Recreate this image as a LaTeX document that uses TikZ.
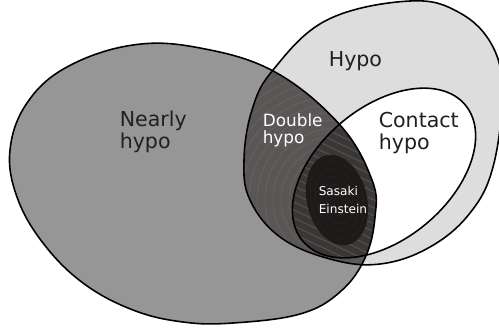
\documentclass[tikz,border=0pt]{standalone}
\usepackage{fontspec}
\setmainfont{DejaVu Sans}
\usepackage{tikz}

\definecolor{nearlygray}{HTML}{969696}
\definecolor{hypogray}{HTML}{DDDDDD}
\definecolor{doublegray}{HTML}{5A5656}
\definecolor{triplegray}{HTML}{3B3737}
\definecolor{sasakiblack}{HTML}{1E1A1A}
\definecolor{textdark}{HTML}{231F20}

\begin{document}
\begin{tikzpicture}[x=0.02cm, y=0.02cm, line width=0.9pt,
	bigtext/.style={align=left, anchor=base west, inner sep=0pt, text=textdark, font=\fontsize{11.7}{12}\selectfont},
	midtext/.style={align=left, anchor=base west, inner sep=0pt, text=white, font=\fontsize{9.6}{9.6}\selectfont},
	smalltext/.style={align=left, anchor=base west, inner sep=0pt, text=white, font=\fontsize{6.9}{10.2}\selectfont}]
	\useasboundingbox (0,0) rectangle (499,-331);
	% Define sets
	\def \cx {337}
	\def \cy {-200}
	\path[save path=\nearlyp] plot[smooth cycle, tension=0.65] coordinates {(10,-150) (27,-103) (67,-67) (133,-45) (200,-48) (275,-72) (340,-125) (372,-180) (375,-217) (365,-258) (340,-292) (300,-314) (233,-323) (183,-322) (133,-310) (83,-283) (43,-243) (17,-197)};
	\path[save path=\hypop] plot[smooth cycle, tension=0.65] coordinates {(244,-160) (252,-110) (273,-70) (327,-20) (410,-1) (460,-13) (493,-47) (502,-95) (493,-167) (470,-213) (430,-247) (380,-264) (330,-259) (280,-237) (250,-200)};
	\path[save path=\contactp] (384,-173) ellipse [x radius=106, y radius=66, rotate=40];
	\path[save path=\sasakip] (\cx,\cy) ellipse [x radius=30, y radius=46, rotate=14];
	% Fill sets
	\fill[nearlygray, use path=\nearlyp];
	\fill[hypogray, use path=\hypop];
	\fill[white, use path=\contactp];
	\begin{scope}
		\clip[use path=\nearlyp];
		\clip[use path=\hypop];
		\fill[doublegray] (0,0) rectangle (499,-331);
		\foreach \r in {40,48,...,200}
			\draw[white, opacity=0.07, line width=0.5pt] (\cx,\cy) circle [radius=\r];
		\clip[use path=\contactp];
		\fill[triplegray] (0,0) rectangle (499,-331);
		\foreach \k in {0,...,30}
			\draw[white, opacity=0.13, line width=0.6pt] (260,-90-8*\k) -- ++(180,-85);
	\end{scope}
	\fill[sasakiblack, use path=\sasakip];
	\foreach \r in {8,16,...,40}
		\draw[white, opacity=0.03, line width=0.4pt] (\cx,\cy) ellipse [x radius=0.65*\r, y radius=\r, rotate=14];
	% Draw outlines
	\draw[use path=\nearlyp];
	\draw[use path=\hypop];
	\draw[use path=\contactp];
	% Draw labels (anchored on the last line)
	\node[bigtext] (nearly) at (119,-148) {Nearly\\hypo};
	\node[bigtext] (hypo) at (328,-67) {Hypo};
	\node[bigtext] (contact) at (378,-149) {Contact\\hypo};
	\node[midtext] (double) at (262,-143) {Double\\hypo};
	\node[smalltext] (sasaki) at (318,-213) {Sasaki\\Einstein};
\end{tikzpicture}
\end{document}
